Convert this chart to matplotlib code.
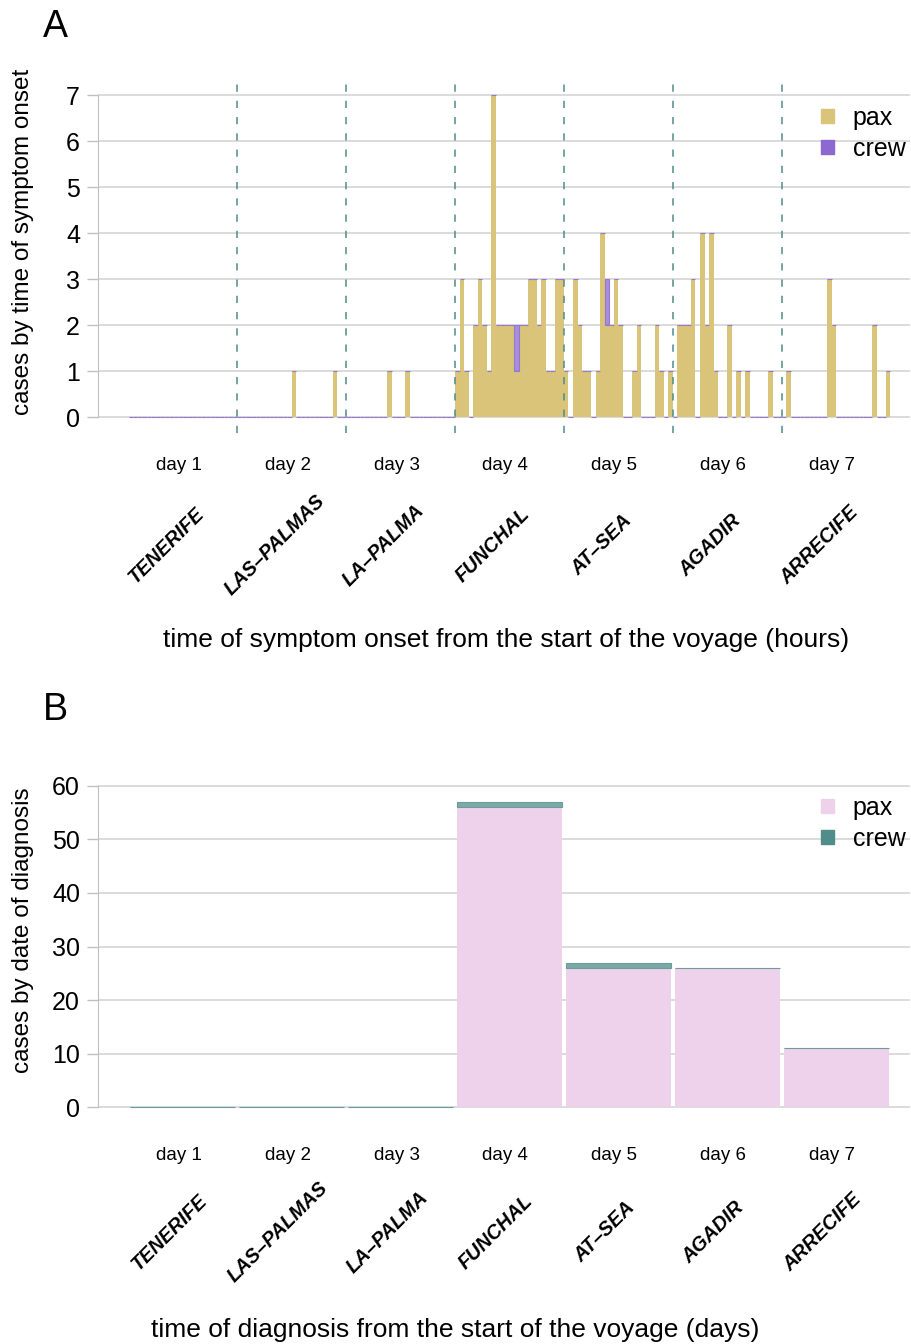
import numpy as np
import matplotlib.pyplot as plt
import matplotlib.transforms as mtransforms
from matplotlib.colors import to_rgba
from matplotlib.patches import Patch

plt.rcParams['font.family'] = ['Liberation Sans', 'DejaVu Sans']

# data: symptom onset by hour (panel A)
pax_hours = [36, 45, 57, 61,
             72, 73, 74, 76, 77, 78, 79, 80, 81, 82, 83, 84, 85, 86, 87, 88, 89, 90, 91, 92, 93, 94, 95,
             96, 98, 99, 100, 101, 103, 104, 105, 106, 107, 108, 111, 112, 116, 117, 119,
             121, 122, 123, 124, 126, 127, 128, 129, 132, 134, 136, 141,
             145, 154, 155, 164, 167]
pax_counts = [1, 1, 1, 1,
              1, 3, 1, 2, 3, 2, 1, 7, 2, 2, 2, 2, 1, 2, 2, 3, 3, 2, 3, 1, 1, 3, 3,
              1, 3, 2, 1, 1, 1, 4, 2, 2, 3, 2, 1, 2, 2, 1, 1,
              2, 2, 2, 3, 4, 2, 4, 1, 2, 1, 1, 1,
              1, 3, 2, 2, 1]
crew_hours = [85, 105]
crew_counts = [1, 1]

# data: diagnosis by day (panel B)
days = [1, 2, 3, 4, 5, 6, 7]
day_labels = ['day 1', 'day 2', 'day 3', 'day 4', 'day 5', 'day 6', 'day 7']
ports = ['TENERIFE', 'LAS\u2013PALMAS', 'LA\u2013PALMA', 'FUNCHAL', 'AT\u2013SEA', 'AGADIR', 'ARRECIFE']
pax_diag = [0, 0, 0, 56, 26, 26, 11]
crew_diag = [0, 0, 0, 1, 1, 0, 0]

pax_col_a = '#dac479'
crew_col_a = '#8c68cf'
pax_col_b = '#eed2ec'
crew_col_b = '#4f8c8a'
grid_col = '#d4d4d4'
dash_col = '#4f8c8a'

W, H = 912, 1344
fig = plt.figure(figsize=(W / 100, H / 100), dpi=100)


def fx(px):
    return px / W


def fy(py):
    return 1 - py / H


hours = np.arange(168)
pax_h = np.zeros(168)
pax_h[pax_hours] = pax_counts
crew_h = np.zeros(168)
crew_h[crew_hours] = crew_counts

xlim_h = (-6.73, 172.3)


def style_axes(ax, ymax, step):
    ax.set_yticks(np.arange(0, ymax + 1, step))
    ax.tick_params(axis='y', length=8, width=1, color='#c0c0c0', labelsize=18, pad=5)
    ax.tick_params(axis='x', length=0, labelbottom=False)
    for s in ['top', 'right', 'bottom']:
        ax.spines[s].set_visible(False)
    ax.spines['left'].set_color('#c0c0c0')
    ax.spines['left'].set_bounds(0, ymax)
    ax.yaxis.grid(True, color=grid_col, lw=1.2)
    ax.set_axisbelow(True)


def add_legend(ax, pcol, ccol, ytop):
    ax.legend(handles=[Patch(color=pcol, label='pax'), Patch(color=ccol, label='crew')],
              loc='upper left', bbox_to_anchor=(fx(809), fy(ytop)), bbox_transform=fig.transFigure,
              frameon=False, fontsize=18, handlelength=0.5, handleheight=0.5, handletextpad=0.75,
              labelspacing=0.28, borderpad=0)


def day_and_port_labels(ax, scale, y_day, y_port, port_off):
    tr = mtransforms.blended_transform_factory(ax.transData, fig.transFigure)
    for i, d in enumerate(days):
        xc = (d - 0.5) * scale
        ax.text(xc - 0.9 * scale / 24, fy(y_day), day_labels[i], transform=tr, ha='center',
                va='center', fontsize=13.5)
        ax.text(xc - port_off * scale / 24, fy(y_port), ports[i], transform=tr, ha='center',
                va='center', rotation=45, rotation_mode='anchor', fontsize=14.3,
                fontweight='bold', fontstyle='italic')


# ---------------- panel A ----------------
axA = fig.add_axes([fx(98), fy(432.5), fx(910 - 98), (432.5 - 80) / H])
axA.bar(hours, pax_h, width=1, align='edge', color=pax_col_a, lw=0)
axA.bar(hours, crew_h, width=1, align='edge', bottom=pax_h, facecolor=to_rgba(crew_col_a, 0.75),
        edgecolor='#9479d2', lw=0.8)
for d in range(1, 7):
    axA.axvline(d * 24, color=dash_col, lw=1.3, ls=(0, (4, 5)), alpha=0.85)
axA.set_xlim(*xlim_h)
axA.set_ylim(-0.33, 7.33)
style_axes(axA, 7, 1)
add_legend(axA, pax_col_a, crew_col_a, 93)
day_and_port_labels(axA, 24, 466, 545, 3.7)
fig.text(fx(506), fy(640), 'time of symptom onset from the start of the voyage (hours)',
         ha='center', va='center', fontsize=19)
fig.text(fx(23), fy(242), 'cases by time of symptom onset', rotation=90, ha='center', va='center',
         fontsize=17.5)
fig.text(fx(55), fy(27), 'A', ha='center', va='center', fontsize=27)

# ---------------- panel B ----------------
axB = fig.add_axes([fx(98), fy(1122), fx(910 - 98), (1122 - 771) / H])
xd = np.array(days) - 0.5
axB.bar(xd, pax_diag, width=0.965, color=pax_col_b, lw=0)
axB.bar(xd, crew_diag, width=0.965, bottom=pax_diag, facecolor=to_rgba(crew_col_b, 0.75),
        edgecolor='#6a9e9b', lw=0.8)
axB.set_xlim(xlim_h[0] / 24, xlim_h[1] / 24)
axB.set_ylim(-2.8, 62.8)
style_axes(axB, 60, 10)
add_legend(axB, pax_col_b, crew_col_b, 783)
day_and_port_labels(axB, 1, 1155, 1232, 3.0)
fig.text(fx(455), fy(1330), 'time of diagnosis from the start of the voyage (days)', ha='center',
         va='center', fontsize=19)
fig.text(fx(23), fy(930), 'cases by date of diagnosis', rotation=90, ha='center', va='center',
         fontsize=17.5)
fig.text(fx(55), fy(710), 'B', ha='center', va='center', fontsize=27)

fig.savefig('out.png', dpi=100)
